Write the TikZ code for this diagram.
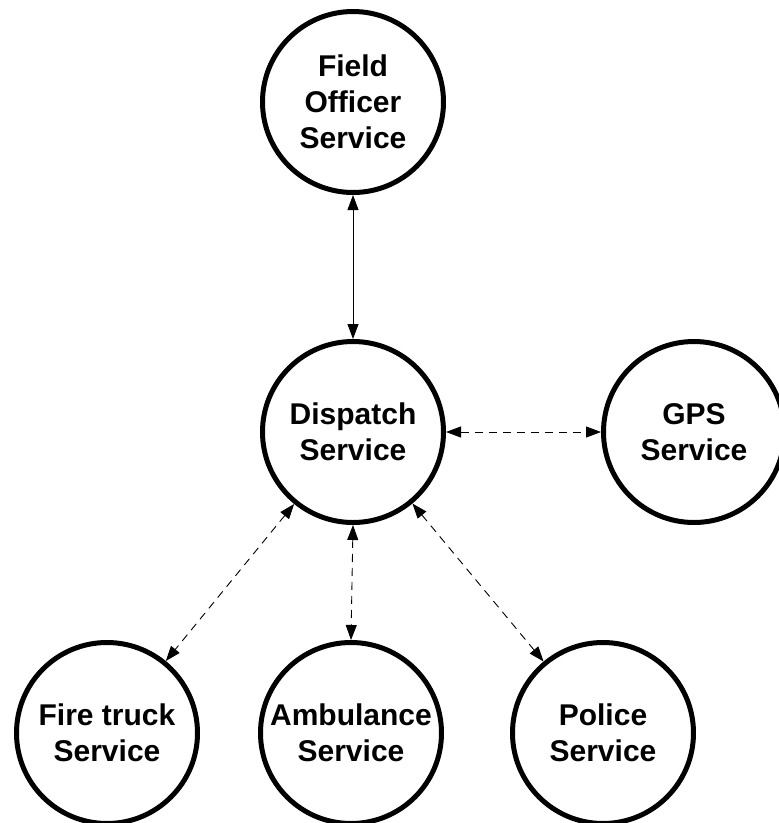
\documentclass[tikz,border=0pt]{standalone}
\usepackage{fontspec}
\setmainfont{Liberation Sans}
\usetikzlibrary{arrows.meta}
\begin{document}
\begin{tikzpicture}[x=1pt,y=-1pt,
  svc/.style={circle,draw,line width=5pt,minimum size=181pt,inner sep=0pt,align=center,
    font=\fontsize{30}{36}\selectfont\bfseries},
  link/.style={line width=0.9pt,{Triangle[length=15pt,width=11pt]}-{Triangle[length=15pt,width=11pt]}},
  dlink/.style={link,dash pattern=on 8pt off 6pt}]
\useasboundingbox (0,0) rectangle (779,823);
\node[svc] (field) at (353,102) {Field\\Officer\\Service};
\node[svc] (disp) at (353,432) {Dispatch\\Service};
\node[svc] (gps) at (694,432) {GPS\\Service};
\node[svc] (fire) at (107,733) {Fire truck\\Service};
\node[svc] (amb) at (351,733) {Ambulance\\Service};
\node[svc] (pol) at (603,733) {Police\\Service};
\draw[link] (field) -- (disp);
\draw[dlink] (disp) -- (gps);
\draw[dlink] (disp) -- (fire);
\draw[dlink] (disp.south) -- (amb.north);
\draw[dlink] (disp) -- (pol);
\end{tikzpicture}
\end{document}
